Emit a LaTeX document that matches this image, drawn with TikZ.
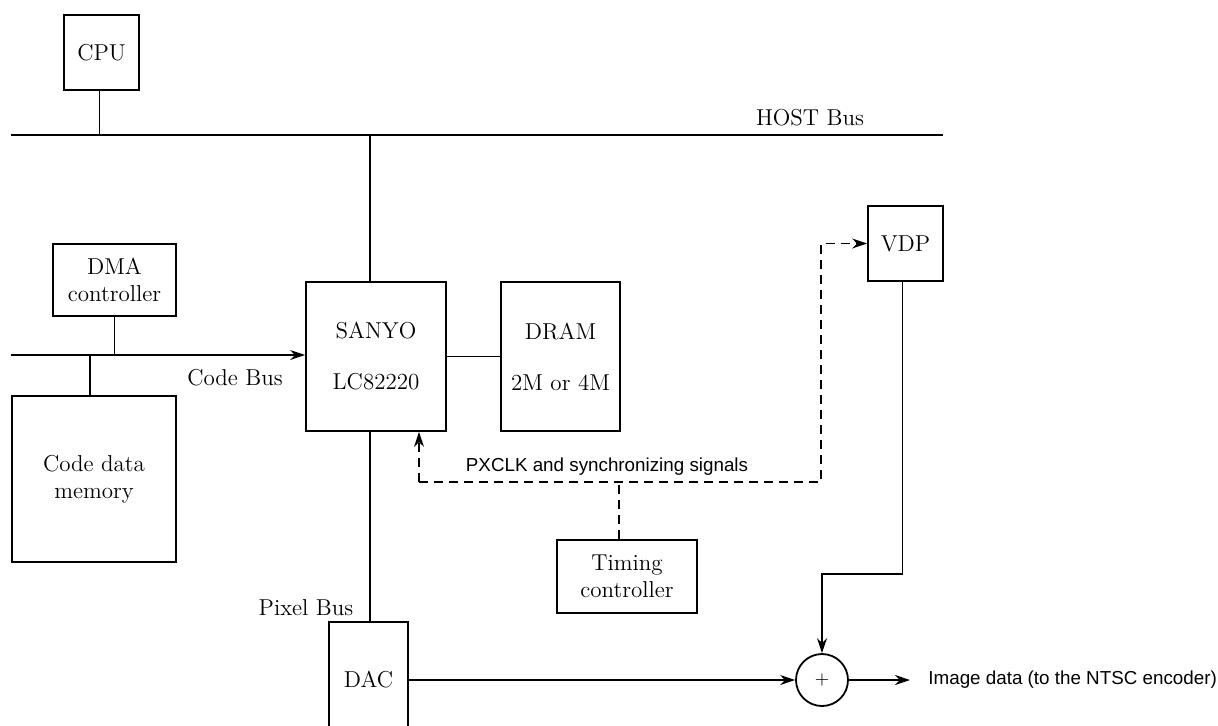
\documentclass[tikz,border=0pt]{standalone}
\usepackage{fontspec}
\newfontfamily\helv{Liberation Sans}
\usetikzlibrary{arrows.meta,positioning,calc}
\tikzset{
	blok/.style={draw,line width=0.9pt,inner sep=0pt,align=center,font=\fontsize{11.5}{13.5}\selectfont},
	wire/.style={line width=0.9pt},
	sig/.style={line width=0.9pt,dash pattern=on 4.5pt off 3pt},
	lbl/.style={font=\fontsize{11.5}{13.5}\selectfont},
	slbl/.style={font=\helv\fontsize{9.4}{11}\selectfont},
	>={Stealth[length=7.5pt,width=5pt]}
}
\begin{document}
\begin{tikzpicture}[x=0.5pt,y=-0.5pt]
			\useasboundingbox (0,0) rectangle (1218,725);
			% blocks
			\node[blok,minimum width=37.5pt,minimum height=37.5pt] (cpu) at (101.5,52.5) {CPU};
			\node[blok,minimum width=61.5pt,minimum height=36pt] (dma) at (114.5,280) {DMA\\controller};
			\node[blok,minimum width=82pt,minimum height=83pt] (mem) at (94,479) {Code data\\memory};
			\node[blok,minimum width=70pt,minimum height=74.5pt] (sanyo) at (376,356.5) {SANYO\\[12pt]LC82220};
			\node[blok,minimum width=59.5pt,minimum height=74.5pt] (dram) at (560.5,356.5) {DRAM\\[12pt]2M or 4M};
			\node[blok,minimum width=37.5pt,minimum height=37.5pt] (vdp) at (905.5,243.5) {VDP};
			\node[blok,minimum width=70pt,minimum height=36.5pt] (timing) at (627,576.5) {Timing\\controller};
			\node[blok,minimum width=39.5pt,minimum height=58pt] (dac) at (368.5,680) {DAC};
			\node[draw,circle,line width=0.9pt,minimum size=26pt,inner sep=0pt,font=\small] (sum) at (822,680) {$+$};
			% bus ends and bends
			\coordinate (hostL) at (11,135);
			\coordinate (hostR) at (943,135);
			\coordinate (codeL) at (11,355);
			\coordinate (sigL) at (419,482);
			\coordinate (sigR) at (821,482);
			\coordinate (vdpbend) at (902,574);
			\coordinate (out) at (910,680);
			% solid wires
			\draw[wire] (hostL) -- (hostR);
			\draw[wire] ([xshift=-1pt]cpu.south) -- ([xshift=-1pt]cpu.south |- hostL);
			\draw[wire] ([xshift=-3pt]sanyo.north |- hostL) -- ([xshift=-3pt]sanyo.north);
			\draw[wire,->] (codeL) -- (codeL -| sanyo.west);
			\draw[wire] (dma.south) -- (dma.south |- codeL);
			\draw[wire] ([xshift=-2pt]mem.north |- codeL) -- ([xshift=-2pt]mem.north);
			\draw[wire] (sanyo.east) -- (dram.west);
			\draw[wire] ([xshift=-3pt]sanyo.south) -- ([xshift=-3pt]sanyo.south |- dac.north);
			\draw[wire,->] (dac.east) -- (sum.west);
			\draw[wire,->] (sum.east) -- (out);
			\draw[wire,->] ([xshift=-1.5pt]vdp.south) -- ([xshift=-1.5pt]vdp.south |- vdpbend) -| (sum.north);
			% timing signals
			\draw[sig,->] (sigL) -- (sigL |- sanyo.south);
			\draw[sig,->] (sigL) -- (sigR) -- (sigR |- vdp.west) -- (vdp.west);
			\draw[sig] ([xshift=-4pt]timing.north) -- ([xshift=-4pt]timing.north |- sigR);
			% labels
			\node[lbl] (hostlbl) at (810,118) {HOST Bus};
			\node[lbl] (codelbl) at (235,378) {Code Bus};
			\node[lbl] (pixlbl) at (306,608) {Pixel Bus};
			\node[slbl] (siglbl) at (607,467) {PXCLK and synchronizing signals};
			\node[slbl,anchor=west,inner sep=0pt] (outlbl) at (928,680) {Image data (to the NTSC encoder)};
		\end{tikzpicture}
\end{document}
